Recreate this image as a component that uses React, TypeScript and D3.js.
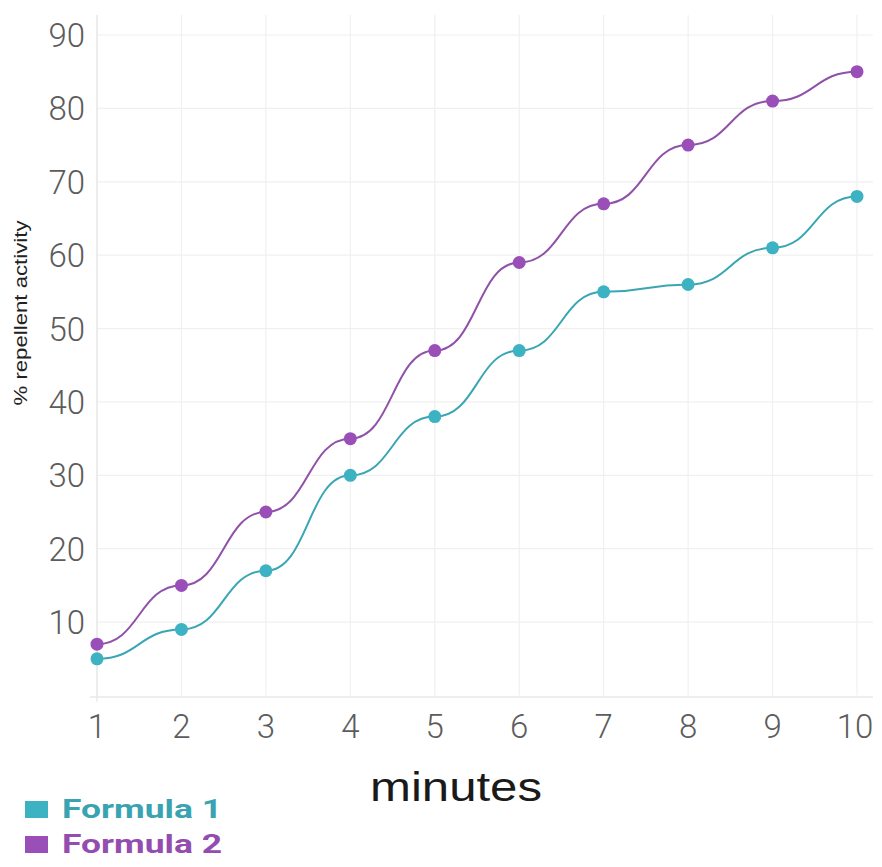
import React from "react";
import * as d3 from "d3";

const minutes = [1, 2, 3, 4, 5, 6, 7, 8, 9, 10];
const formula1 = [5, 9, 17, 30, 38, 47, 55, 56, 61, 68];
const formula2 = [7, 15, 25, 35, 47, 59, 67, 75, 81, 85];
const yTicks = [10, 20, 30, 40, 50, 60, 70, 80, 90];
const seriesNames = ["Formula 1", "Formula 2"];
const lineColors = ["#3aa6b3", "#8f52a8"];
const pointColors = ["#3cb2c2", "#9a4fb8"];
const legendTextColors = ["#3aa3b2", "#934cb0"];

export default function App() {
  const W = 882, H = 867;
  const x = d3.scaleLinear().domain([1, 10]).range([97, 857]);
  const y = d3.scaleLinear().domain([0, 90]).range([695.5, 35]);
  const gridTop = 15;
  const line = d3
    .line<number>()
    .x((_, i) => x(minutes[i]))
    .y((d) => y(d))
    .curve(d3.curveBumpX);
  const series = [formula1, formula2];
  const tickFont = "Roboto, 'Open Sans', sans-serif";

  return (
    <svg width={W} height={H} style={{ position: "absolute", left: 0, top: 0, background: "#fff" }}>
      {/* grid */}
      {minutes.map((m) => (
        <line key={"v" + m} x1={x(m)} x2={x(m)} y1={gridTop} y2={y(0)} stroke="#f0f0f0" strokeWidth={1.2} />
      ))}
      {yTicks.map((t) => (
        <line key={"h" + t} x1={x(1)} x2={873} y1={y(t)} y2={y(t)} stroke="#f0f0f0" strokeWidth={1.2} />
      ))}
      <line x1={x(1)} x2={x(1)} y1={gridTop} y2={y(0) + 6} stroke="#e8e8e8" strokeWidth={1.5} />
      <line x1={90} x2={873} y1={y(0) + 1.5} y2={y(0) + 1.5} stroke="#e8e8e8" strokeWidth={1.5} />

      {/* y tick labels */}
      {yTicks.map((t) => (
        <text key={"yl" + t} x={85} y={y(t) + 12} textAnchor="end" fontFamily={tickFont} fontWeight={300} fontSize={33} fill="#5c5c5c">
          {t}
        </text>
      ))}
      {/* x tick labels */}
      {minutes.map((m) => (
        <text key={"xl" + m} x={x(m) - (m === 10 ? 2 : 0)} y={738} textAnchor="middle" fontFamily={tickFont} fontWeight={300} fontSize={33} fill="#5c5c5c">
          {m}
        </text>
      ))}

      {/* axis titles */}
      <text
        transform={`translate(27,313) rotate(-90)`}
        textAnchor="middle"
        fontFamily="'Liberation Sans', Arial, sans-serif"
        fontSize={18}
        fill="#222"
        textLength={185}
        lengthAdjust="spacingAndGlyphs"
      >
        % repellent activity
      </text>
      <text
        x={370}
        y={801}
        fontFamily="'Liberation Sans', Arial, sans-serif"
        fontSize={41}
        fill="#1a1a1a"
        textLength={172}
        lengthAdjust="spacingAndGlyphs"
      >
        minutes
      </text>

      {/* lines */}
      {series.map((s, si) => (
        <path key={"p" + si} d={line(s) || ""} fill="none" stroke={lineColors[si]} strokeWidth={2} />
      ))}
      {series.map((s, si) =>
        s.map((v, i) => (
          <circle key={"c" + si + "-" + i} cx={x(minutes[i])} cy={y(v)} r={6.5} fill={pointColors[si]} />
        ))
      )}

      {/* legend */}
      {seriesNames.map((n, i) => (
        <g key={"lg" + i} transform={`translate(0, ${i * 35})`}>
          <rect x={25} y={801} width={23} height={17} fill={pointColors[i]} />
          <text
            x={62}
            y={818}
            fontFamily="Roboto, 'Liberation Sans', Arial, sans-serif"
            fontWeight={700}
            fontSize={26}
            fill={legendTextColors[i]}
            textLength={160}
            lengthAdjust="spacingAndGlyphs"
          >
            {n}
          </text>
        </g>
      ))}
    </svg>
  );
}
